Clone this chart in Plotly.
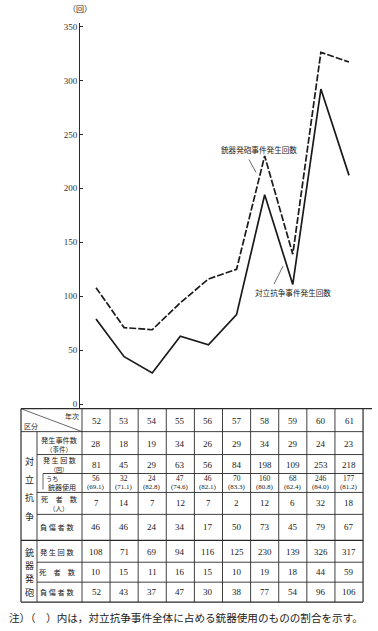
import plotly.graph_objects as go

W, H = 378, 631

# ---------------- data ----------------
years = [52, 53, 54, 55, 56, 57, 58, 59, 60, 61]
year_labels = ["52", "53", "54", "55", "56", "57", "58", "59", "60", "61"]

# lines as drawn in the chart
shoot_line = [108, 71, 69, 94, 116, 125, 230, 139, 326, 317]
conflict_line = [79, 44, 29, 63, 55, 83, 194, 111, 292, 212]

# table values
incidents = [28, 18, 19, 34, 26, 29, 34, 29, 24, 23]
conflict_count = [81, 45, 29, 63, 56, 84, 198, 109, 253, 218]
gun_use = [56, 32, 24, 47, 46, 70, 160, 68, 246, 177]
gun_pct = ["69.1", "71.1", "82.8", "74.6", "82.1", "83.3", "80.8", "62.4", "84.0", "81.2"]
deaths = [7, 14, 7, 12, 7, 2, 12, 6, 32, 18]
injured = [46, 46, 24, 34, 17, 50, 73, 45, 79, 67]
shoot_count = [108, 71, 69, 94, 116, 125, 230, 139, 326, 317]
shoot_deaths = [10, 15, 11, 16, 15, 10, 19, 18, 44, 59]
shoot_injured = [52, 43, 37, 47, 30, 38, 77, 54, 96, 106]

y_ticks = [0, 50, 100, 150, 200, 250, 300, 350]

# ---------------- helpers ----------------
def px(x):
    return x / W

def py(y):
    return 1 - y / H

JP = "Noto Sans CJK JP"
NUM = "Liberation Serif"
INK = "#1a1a1a"
LINE = "#2a2a2a"

fig = go.Figure()
fig.add_trace(go.Scatter(x=years, y=shoot_line, mode="lines",
                         line=dict(color=INK, width=1.7, dash="7px,2px"),
                         hoverinfo="skip", showlegend=False))
fig.add_trace(go.Scatter(x=years, y=conflict_line, mode="lines",
                         line=dict(color=INK, width=1.7),
                         hoverinfo="skip", showlegend=False))

ann = []
shapes = []

def text(x, y, s, size=9, font=JP, xref="paper", xanchor="center", color=INK):
    ann.append(dict(x=x if xref != "paper" else px(x), y=py(y), xref=xref, yref="paper",
                    text=s, showarrow=False, xanchor=xanchor, yanchor="middle",
                    borderpad=0,
                    font=dict(family=font, size=size, color=color)))

def hline(x0, x1, y, w=0.9, xref="paper"):
    if xref == "paper":
        x0, x1 = px(x0), px(x1)
    shapes.append(dict(type="line", xref=xref, yref="paper", x0=x0, x1=x1,
                       y0=py(y), y1=py(y), line=dict(color=LINE, width=w)))

def vline(x, y0, y1, w=0.9, xref="paper"):
    if xref == "paper":
        x = px(x)
    shapes.append(dict(type="line", xref=xref, yref="paper", x0=x, x1=x,
                       y0=py(y0), y1=py(y1), line=dict(color=LINE, width=w)))

# axis unit
text(80, 8, "（回）", size=8)

# line labels and leaders
text(259, 149, "銃器発砲事件発生回数", size=7.6)
shapes.append(dict(type="line", xref="paper", yref="paper", x0=px(249), y0=py(159),
                   x1=px(256), y1=py(172), line=dict(color=LINE, width=0.7)))
text(293, 292, "対立抗争事件発生回数", size=7.6)
shapes.append(dict(type="line", xref="paper", yref="paper", x0=px(274), y0=py(284),
                   x1=px(283), y1=py(266), line=dict(color=LINE, width=0.7)))

# ---------------- table ----------------
T_TOP, T_HDR, R1, R2, R3, R4, R5, R6, R7, T_BOT = 409, 432, 455, 474, 493, 515, 541, 563, 583, 603
XL, XV, XS = 21, 37, 82

hline(XL, 372, T_TOP, w=1.2)
hline(XL, 363, T_HDR)
for yy in [R1, R3, R4, R6, R7]:
    hline(XV, 363, yy)
hline(43, 363, R2)
vline(43, R2, R2 + 16, w=0.7)
hline(XL, 363, R5, w=1.3)
hline(XL, 363, T_BOT, w=1.3)

vline(XL, T_TOP, T_BOT, w=1.2)
vline(XV, T_HDR, T_BOT)
vline(XS, T_TOP, T_BOT)
for k in range(1, 11):
    vline(51.5 + k, T_TOP, T_BOT, w=1.2 if k == 10 else 0.9, xref="x")

# header diagonal
shapes.append(dict(type="line", xref="paper", yref="paper", x0=px(XL), y0=py(T_TOP),
                   x1=px(XS), y1=py(T_HDR), line=dict(color=LINE, width=0.7)))
text(72, 416, "年次", size=7)
text(31, 426, "区分", size=7)

# group labels (vertical)
for ch, yy in zip("対立抗争", [462, 480, 498, 517]):
    text(29, yy, ch, size=9)
for ch, yy in zip("銃器発砲", [553, 566, 579, 593]):
    text(29, yy, ch, size=9)

# row labels
text(59, 440, "発生事件数", size=7.2)
text(59, 449, "（事件）", size=6.5)
text(59, 460, "発 生 回 数", size=7)
text(59, 469.5, "（回）", size=6)
text(52, 479, "うち", size=6.2)
text(62, 487.5, "銃器使用", size=7)
text(59, 500, "死　者　数", size=7.2)
text(59, 509, "（人）", size=6.5)
text(57, 528, "負 傷 者 数", size=7.2)
text(57, 553, "発 生 回 数", size=7.2)
text(57, 573, "死　者　数", size=7.2)
text(57, 593, "負 傷 者 数", size=7.2)

# data cells
for i, yr in enumerate(years):
    text(yr, 421, year_labels[i], size=9, font=NUM, xref="x")
    text(yr, 444, str(incidents[i]), size=9, font=NUM, xref="x")
    text(yr, 465, str(conflict_count[i]), size=9, font=NUM, xref="x")
    text(yr, 479, str(gun_use[i]), size=7.5, font=NUM, xref="x")
    text(yr, 487.5, "(" + gun_pct[i] + ")", size=7, font=NUM, xref="x")
    text(yr, 504, str(deaths[i]), size=9, font=NUM, xref="x")
    text(yr, 528, str(injured[i]), size=9, font=NUM, xref="x")
    text(yr, 553, str(shoot_count[i]), size=9, font=NUM, xref="x")
    text(yr, 573, str(shoot_deaths[i]), size=9, font=NUM, xref="x")
    text(yr, 593, str(shoot_injured[i]), size=9, font=NUM, xref="x")

# note
text(8, 618, "注）（　）内は，対立抗争事件全体に占める銃器使用のものの割合を示す。",
     size=10.6, xanchor="left")

# ---------------- axes ----------------
step = 28.111
x0 = 52 - (96 - 80) / step
x1 = 52 + (378 - 96) / step
ypx_per = 379 / 350.0
y_lo = (404.5 - 409) / ypx_per
y_hi = (404.5 - 22) / ypx_per

fig.update_layout(
    width=W, height=H, autosize=False,
    margin=dict(l=0, r=0, t=0, b=0),
    paper_bgcolor="white", plot_bgcolor="white",
    showlegend=False,
    xaxis=dict(domain=[80 / W, 1], range=[x0, x1], visible=False, fixedrange=True),
    yaxis=dict(domain=[py(409), py(22)], range=[y_lo, y_hi],
               showline=True, linecolor=LINE, linewidth=1,
               ticks="inside", ticklen=3, tickcolor=LINE,
               tickvals=y_ticks, ticktext=[str(v) for v in y_ticks],
               showgrid=False, zeroline=False,
               tickfont=dict(family=NUM, size=9, color="#333"), fixedrange=True),
    annotations=ann,
    shapes=shapes,
)

fig.write_html("out.html", config={"displayModeBar": False},
               post_script="document.body.style.margin='0';document.body.style.overflow='hidden';")
